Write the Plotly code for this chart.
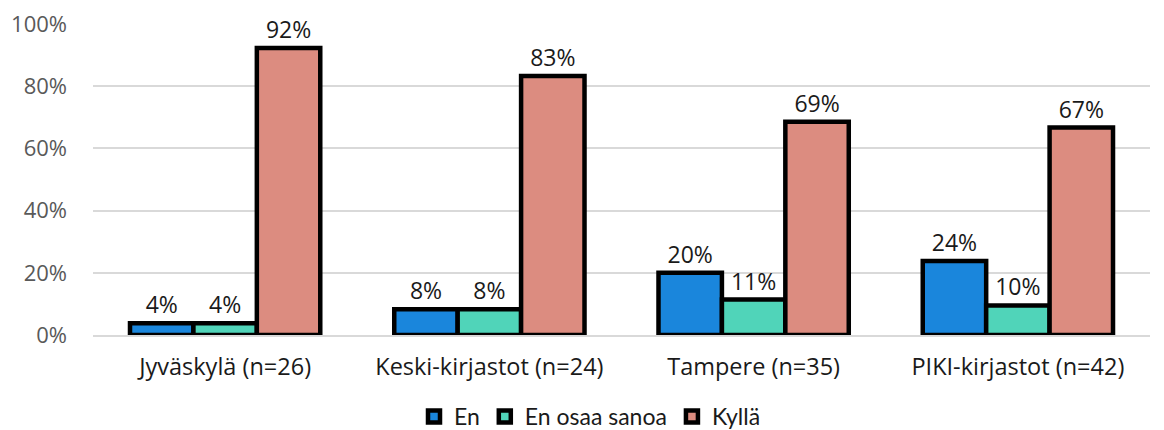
import plotly.graph_objects as go

# kirjastot ja osuudet (0-1)
categories = ["Jyväskylä (n=26)", "Keski-kirjastot (n=24)", "Tampere (n=35)", "PIKI-kirjastot (n=42)"]
en = [0.038, 0.083, 0.20, 0.238]
en_osaa_sanoa = [0.038, 0.083, 0.114, 0.095]
kylla = [0.923, 0.833, 0.686, 0.667]

series = [
    ("En", en, "#1a86dc"),
    ("En osaa sanoa", en_osaa_sanoa, "#50d4b9"),
    ("Kyllä", kylla, "#dc8c80"),
]

fig = go.Figure()
for name, vals, color in series:
    fig.add_trace(go.Bar(
        x=categories, y=vals, name=name,
        marker=dict(color=color, line=dict(color="black", width=4.5)),
        text=[f"{v:.0%}" for v in vals],
        textposition="outside",
        textfont=dict(size=23, color="#1a1a1a"),
        cliponaxis=False,
    ))

# sivun body-marginaali (8px) huomioitu marginaaleissa
fig.update_layout(
    width=1164, height=430,
    margin=dict(l=85, r=22, t=16, b=103, autoexpand=False),
    paper_bgcolor="white", plot_bgcolor="white",
    barmode="group", bargap=0.28, bargroupgap=0,
    font=dict(family="Open Sans, Noto Sans, sans-serif", size=22, color="#595959"),
    showlegend=True,
    legend=dict(orientation="h", x=0.5, xanchor="center", xref="container",
                y=0.05, yanchor="middle", yref="container",
                font=dict(size=23, color="#1a1a1a", family="Lato, Open Sans, sans-serif"),
                itemwidth=30, tracegroupgap=0),
)
fig.update_xaxes(tickfont=dict(size=23.5, color="#1a1a1a"), showline=True,
                 linecolor="#d9d9d9", linewidth=2, ticks="", automargin=False,
                 ticklabelstandoff=10)
fig.update_yaxes(range=[0, 1], tickvals=[0, 0.2, 0.4, 0.6, 0.8, 1.0],
                 tickformat=".0%", showgrid=True, ticklabeloverflow="allow",
                 gridcolor="#d9d9d9", gridwidth=2, zeroline=False, automargin=False,
                 tickfont=dict(size=22, color="#595959"), ticklabelstandoff=25)

fig.write_html("out.html")
